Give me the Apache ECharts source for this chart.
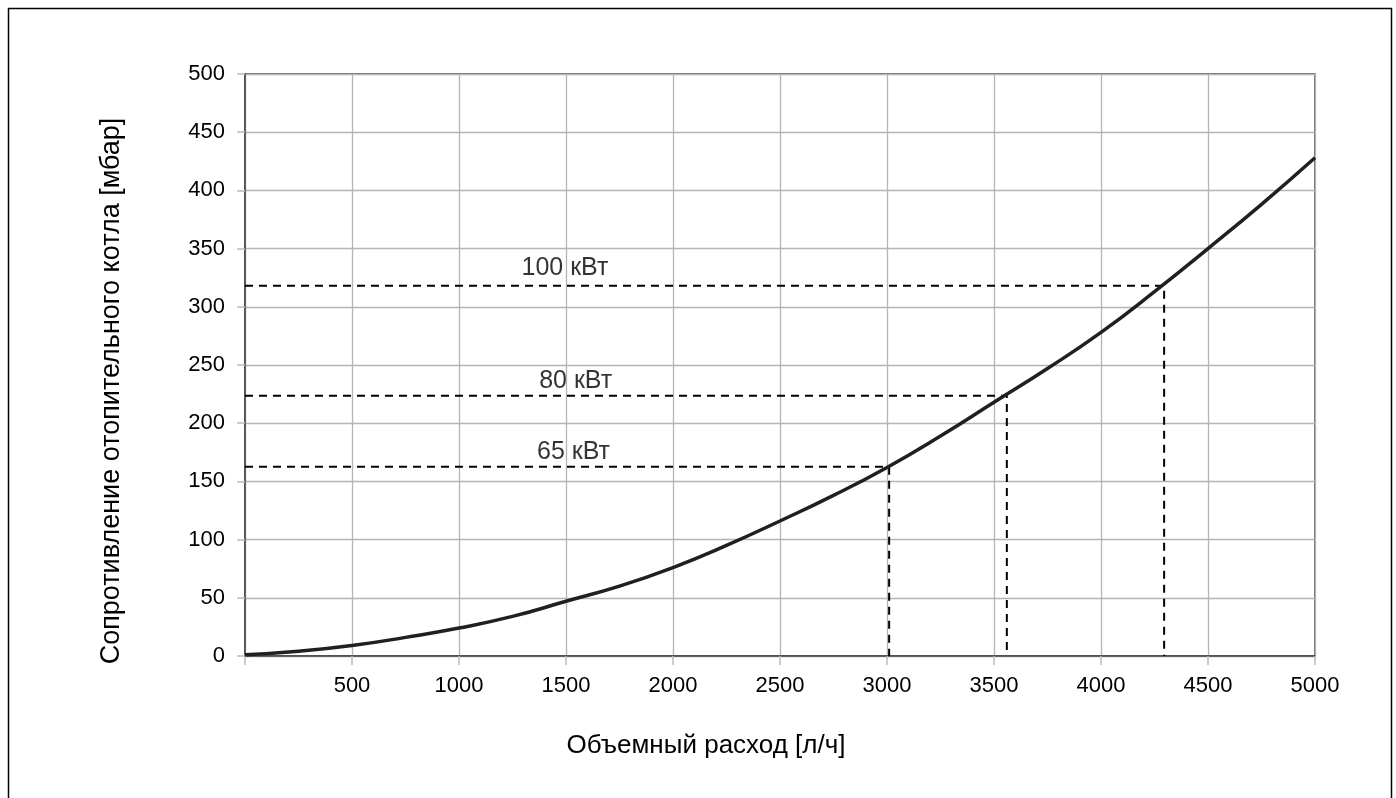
<!DOCTYPE html>
<html>
<head>
<meta charset="utf-8">
<script src="https://cdn.jsdelivr.net/npm/echarts@6/dist/echarts.min.js"></script>
<style>
  html, body { margin: 0; padding: 0; background: #fff; }
  #chart { width: 1396px; height: 798px; }
</style>
</head>
<body>
<div id="chart"></div>
<script>
// расход [л/ч] и сопротивление [мбар]
var flow = [0, 250, 500, 750, 1000, 1250, 1500, 1750, 2000, 2250, 2500,
            2750, 3000, 3250, 3500, 3750, 4000, 4250, 4500, 4750, 5000];
var resistance = [1, 4, 9, 16, 24, 34, 47, 60, 76, 95, 116,
                  138, 162, 189, 218, 247, 278, 313, 350, 388, 428];

// опорные точки мощности котла
var powerLabels = ["65 кВт", "80 кВт", "100 кВт"];
var powerFlow = [3010, 3560, 4295];
var powerRes = [162.5, 223.5, 318];
var labelFlow = [1535, 1545, 1495];

var xTicks = [0, 500, 1000, 1500, 2000, 2500, 3000, 3500, 4000, 4500, 5000];
var yTicks = [0, 50, 100, 150, 200, 250, 300, 350, 400, 450, 500];

var FONT = "'Liberation Sans', Arial, sans-serif";

var chart = echarts.init(document.getElementById("chart"));

var curve = flow.map(function (f, i) { return [f, resistance[i]]; });

var series = [
  {
    name: "curve",
    type: "line",
    data: curve,
    smooth: true,
    showSymbol: false,
    lineStyle: { color: "#231f20", width: 3.5 },
    z: 5
  }
];

powerFlow.forEach(function (f, i) {
  series.push({
    name: powerLabels[i],
    type: "line",
    data: [[0, powerRes[i]], [f, powerRes[i]], [f, 0]],
    showSymbol: false,
    lineStyle: { color: "#000", width: 2, type: [8, 6] },
    z: 4
  });
  series.push({
    name: powerLabels[i] + " label",
    type: "scatter",
    data: [[labelFlow[i], powerRes[i]]],
    symbolSize: 0,
    label: {
      show: true,
      position: "top",
      distance: i === 2 ? 5 : 2,
      formatter: powerLabels[i],
      color: "#000",
      fontSize: 25,
      fontFamily: FONT
    },
    z: 6
  });
});

chart.setOption({
  animation: false,
  backgroundColor: "#fff",
  grid: {
    left: 245, right: 81, top: 74, bottom: 142,
    show: true, borderColor: "#444", borderWidth: 1.5
  },
  xAxis: {
    type: "value",
    min: xTicks[0],
    max: xTicks[xTicks.length - 1],
    interval: 500,
    axisLine: { show: true, lineStyle: { color: "#444", width: 1.5 } },
    axisTick: { show: true, length: 9, lineStyle: { color: "#bbb", width: 1.5 } },
    splitLine: { show: true, lineStyle: { color: "#b4b4b4", width: 1.3 } },
    axisLabel: {
      margin: 19,
      color: "#000",
      fontSize: 22,
      fontFamily: FONT,
      formatter: function (v) { return v === 0 ? "" : String(v); }
    }
  },
  yAxis: {
    type: "value",
    min: yTicks[0],
    max: yTicks[yTicks.length - 1],
    interval: 50,
    axisLine: { show: true, lineStyle: { color: "#444", width: 1.5 } },
    axisTick: { show: true, length: 8, lineStyle: { color: "#bbb", width: 1.5 } },
    splitLine: { show: true, lineStyle: { color: "#b4b4b4", width: 1.3 } },
    axisLabel: { margin: 20, color: "#000", fontSize: 22, fontFamily: FONT }
  },
  graphic: [
    {
      type: "rect",
      shape: { x: 8.5, y: 8.5, width: 1383, height: 820 },
      style: { fill: null, stroke: "#000", lineWidth: 1.5 },
      silent: true
    },
    {
      type: "text",
      x: 706, y: 746,
      style: {
        text: "Объемный расход [л/ч]",
        fill: "#000",
        font: "26px " + FONT,
        textAlign: "center",
        textVerticalAlign: "middle"
      }
    },
    {
      type: "text",
      x: 112, y: 391,
      rotation: Math.PI / 2,
      style: {
        text: "Сопротивление отопительного котла [мбар]",
        fill: "#000",
        font: "27px " + FONT,
        textAlign: "center",
        textVerticalAlign: "middle"
      }
    }
  ],
  series: series
});
</script>
</body>
</html>
